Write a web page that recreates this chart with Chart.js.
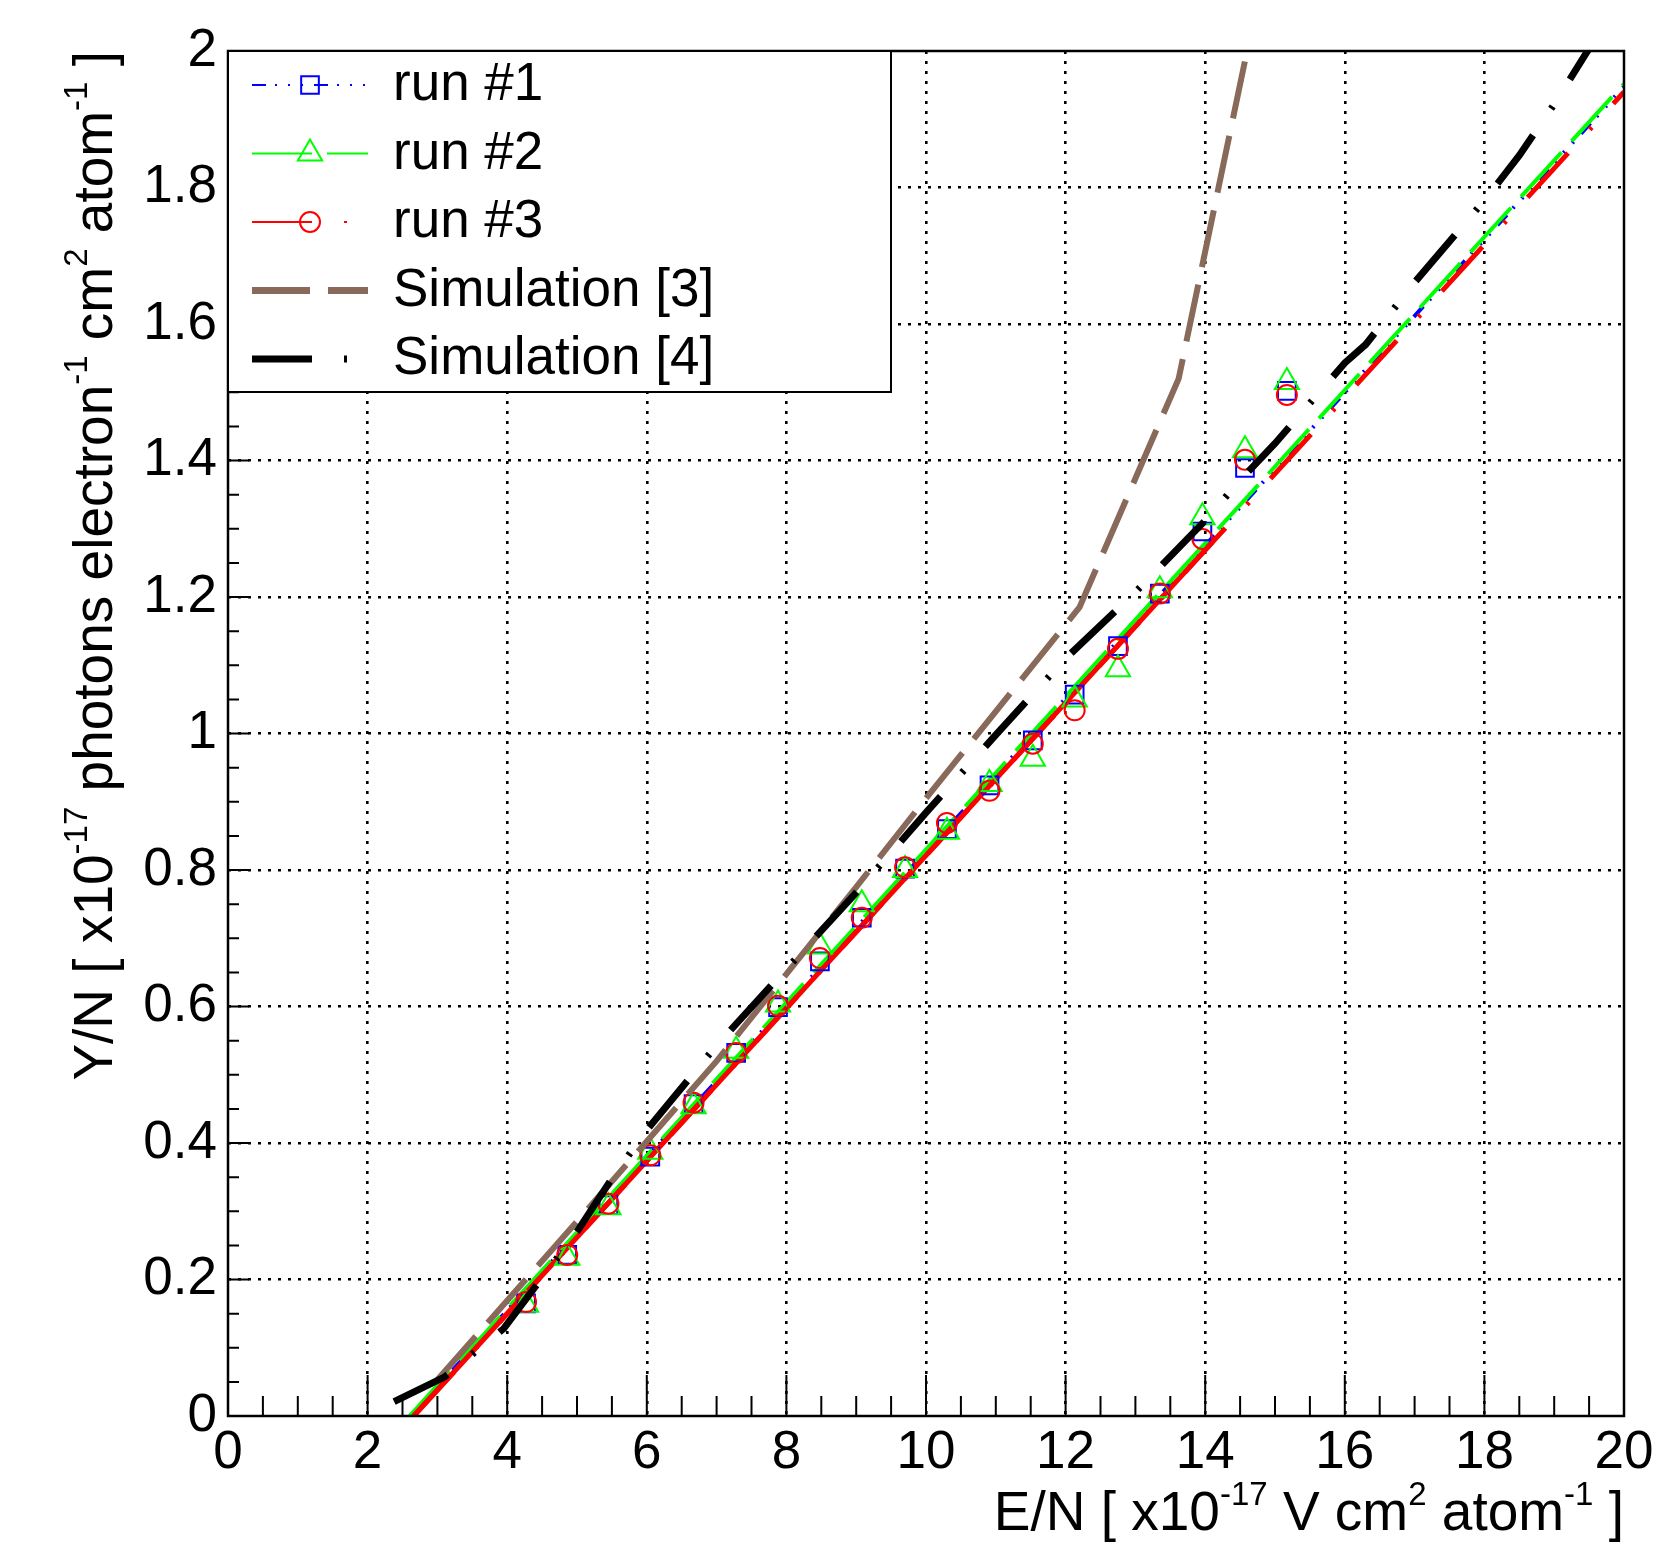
<!DOCTYPE html>
<html>
<head>
<meta charset="utf-8">
<script src="https://cdn.jsdelivr.net/npm/chart.js@4.4.1/dist/chart.umd.min.js"></script>
<style>
html,body{margin:0;padding:0;background:#ffffff;}
#wrap{width:1672px;height:1545px;position:relative;}
canvas{display:block;}
</style>
</head>
<body>
<div id="wrap"><canvas id="c" width="1672" height="1545"></canvas></div>
<script>
// ---------------- data ----------------
const xTickLabels = ['0','2','4','6','8','10','12','14','16','18','20'];
const yTickLabels = ['0','0.2','0.4','0.6','0.8','1','1.2','1.4','1.6','1.8','2'];

// measured points (E/N, Y/N)
const EN = [4.27, 4.86, 5.45, 6.05, 6.67, 7.28, 7.88, 8.48, 9.08, 9.70, 10.30, 10.91, 11.53, 12.13, 12.75, 13.35, 13.96, 14.57, 15.17];
const run1Y = [0.165, 0.236, 0.309, 0.380, 0.457, 0.532, 0.599, 0.666, 0.730, 0.802, 0.860, 0.924, 0.990, 1.057, 1.128, 1.205, 1.296, 1.389, 1.502];
const run2Y = [0.163, 0.232, 0.306, 0.387, 0.454, 0.535, 0.603, 0.688, 0.750, 0.800, 0.856, 0.926, 0.963, 1.050, 1.094, 1.210, 1.317, 1.415, 1.515];
const run3Y = [0.167, 0.236, 0.311, 0.382, 0.459, 0.532, 0.601, 0.671, 0.730, 0.804, 0.869, 0.916, 0.985, 1.034, 1.124, 1.205, 1.285, 1.401, 1.496];

// fitted lines of the runs (end points)
const fit1X = [2.62, 20.0];
const fit1Y = [0.0, 1.948];
const fit2X = [2.60, 20.0];
const fit2Y = [0.0, 1.952];
const fit3X = [2.66, 20.0];
const fit3Y = [0.0, 1.940];
// solid part of the run #3 fit (fit range)
const fit3RangeX = [2.66, 14.1];
const fit3RangeY = [0.0, 1.280];

// Simulation [3]
const sim3X = [3.0, 5.0, 7.0, 9.0, 10.0, 12.2, 13.62, 14.64];
const sim3Y = [0.053, 0.285, 0.52, 0.775, 0.905, 1.185, 1.52, 2.02];

// Simulation [4]
const sim4X = [2.38, 3.1, 3.95, 4.4, 5.0, 5.5, 6.0, 7.0, 8.0, 9.0, 10.0, 11.0, 12.0, 13.0, 14.0, 14.5, 15.0, 16.0, 16.3, 17.0, 18.0, 18.5, 19.0, 19.6];
const sim4Y = [0.021, 0.057, 0.128, 0.189, 0.27, 0.348, 0.419, 0.543, 0.655, 0.767, 0.884, 0.998, 1.110, 1.207, 1.312, 1.371, 1.425, 1.543, 1.570, 1.661, 1.781, 1.847, 1.922, 2.02];

const legendLabels = ['run #1', 'run #2', 'run #3', 'Simulation [3]', 'Simulation [4]'];

// ---------------- styles ----------------
const FONT = '"Liberation Sans", Arial, Helvetica, sans-serif';
const FS = 53;      // tick labels and legend
const FS_T = 55;    // axis titles
const BLUE = '#0000ff', GREEN = '#00ff00', RED = '#ff0000', BROWN = '#88695a', BLACK = '#000000';
const DASH_BLUE = [14, 9, 2, 11, 2, 11, 2, 11];
const DASH_GREEN = [60, 15];
const DASH_RED = [60, 32, 3, 32];
const DASH_BROWN = [58, 18];
const DASH_BLACK = [60, 32, 3, 32];

const xTickValues = xTickLabels.map(Number);
const yTickValues = yTickLabels.map(Number);
const pts = (xs, ys) => xs.map((v, i) => ({x: v, y: ys[i]}));

function lineDs(label, xs, ys, color, width, dash, order) {
  return {label, data: pts(xs, ys), showLine: true, borderColor: color, borderWidth: width,
          borderDash: dash, borderCapStyle: 'butt', borderJoinStyle: 'miter', pointRadius: 0, pointHoverRadius: 0,
          fill: false, tension: 0, clip: 0, order};
}
function markDs(label, xs, ys, color, style, radius, order) {
  return {label, data: pts(xs, ys), showLine: false, pointStyle: style, pointRadius: radius, pointHoverRadius: radius,
          borderColor: color, backgroundColor: 'rgba(0,0,0,0)', pointBorderWidth: 2, borderWidth: 2, order};
}

const datasets = [
  lineDs('Simulation [4]', sim4X, sim4Y, BLACK, 7, DASH_BLACK, 0),
  lineDs('Simulation [3]', sim3X, sim3Y, BROWN, 6, DASH_BROWN, 1),
  markDs('run #3', EN, run3Y, RED, 'circle', 10, 2),
  markDs('run #2', EN, run2Y, GREEN, 'triangle', 14, 3),
  markDs('run #1', EN, run1Y, BLUE, 'rect', 12.5, 4),
  lineDs('fit run #3 range', fit3RangeX, fit3RangeY, RED, 5, [], 5),
  lineDs('fit run #3', fit3X, fit3Y, RED, 5, DASH_RED, 6),
  lineDs('fit run #2', fit2X, fit2Y, GREEN, 4, DASH_GREEN, 7),
  lineDs('fit run #1', fit1X, fit1Y, BLUE, 4, DASH_BLUE, 8)
];

// ---------------- helpers ----------------
function font(sz) { return sz + 'px ' + FONT; }
function richWidth(ctx, parts, size) {
  let w = 0;
  for (const p of parts) { ctx.font = font(p.sup ? size * 0.6 : size); w += ctx.measureText(p.t).width; }
  return w;
}
function drawRich(ctx, parts, size) { // right-aligned, ending at x=0, baseline y=0
  const total = richWidth(ctx, parts, size);
  let x = -total;
  ctx.textAlign = 'left'; ctx.textBaseline = 'alphabetic';
  for (const p of parts) {
    const s = p.sup ? size * 0.6 : size;
    ctx.font = font(s);
    ctx.fillText(p.t, x, p.sup ? -size * 0.46 : 0);
    x += ctx.measureText(p.t).width;
  }
}
const xTitle = [{t:'E/N [ x10'}, {t:'-17', sup:true}, {t:' V cm'}, {t:'2', sup:true}, {t:' atom'}, {t:'-1', sup:true}, {t:' ]'}];
const yTitle = [{t:'Y/N [ x10'}, {t:'-17', sup:true}, {t:' photons electron'}, {t:'-1', sup:true}, {t:' cm'}, {t:'2', sup:true}, {t:' atom'}, {t:'-1', sup:true}, {t:' ]'}];

const legendStyles = [
  {color: BLUE, width: 2, dash: DASH_BLUE, marker: 'rect', r: 12.5},
  {color: GREEN, width: 2, dash: DASH_GREEN, marker: 'triangle', r: 14},
  {color: RED, width: 2, dash: DASH_RED, marker: 'circle', r: 10},
  {color: BROWN, width: 7, dash: DASH_BROWN, marker: null},
  {color: BLACK, width: 7, dash: DASH_BLACK, marker: null}
];

const rootPlugin = {
  id: 'rootDeco',
  afterDatasetsDraw(chart) {
    const {ctx, chartArea: a, scales: {x, y}} = chart;
    ctx.save();
    // inside ticks
    ctx.strokeStyle = '#000'; ctx.lineWidth = 2; ctx.setLineDash([]);
    ctx.beginPath();
    for (let i = 0; i < xTickValues.length; i++) {
      const px = x.getPixelForValue(xTickValues[i]);
      ctx.moveTo(px, a.bottom); ctx.lineTo(px, a.bottom - 41);
      if (i < xTickValues.length - 1) {
        const step = (xTickValues[i + 1] - xTickValues[i]) / 4;
        for (let k = 1; k < 4; k++) {
          const pm = x.getPixelForValue(xTickValues[i] + k * step);
          ctx.moveTo(pm, a.bottom); ctx.lineTo(pm, a.bottom - 20);
        }
      }
    }
    for (let i = 0; i < yTickValues.length; i++) {
      const py = y.getPixelForValue(yTickValues[i]);
      ctx.moveTo(a.left, py); ctx.lineTo(a.left + 21, py);
      if (i < yTickValues.length - 1) {
        const step = (yTickValues[i + 1] - yTickValues[i]) / 4;
        for (let k = 1; k < 4; k++) {
          const pm = y.getPixelForValue(yTickValues[i] + k * step);
          ctx.moveTo(a.left, pm); ctx.lineTo(a.left + 11, pm);
        }
      }
    }
    ctx.stroke();
    // frame
    ctx.lineWidth = 2.5;
    ctx.strokeRect(a.left, a.top, a.right - a.left, a.bottom - a.top);

    // axis titles
    ctx.fillStyle = '#000';
    ctx.save();
    ctx.translate(a.right, 1530);
    drawRich(ctx, xTitle, FS_T);
    ctx.restore();
    ctx.save();
    ctx.translate(112, a.top);
    ctx.rotate(-Math.PI / 2);
    drawRich(ctx, yTitle, FS_T);
    ctx.restore();

    // legend
    const L = {x1: a.left, y1: a.top, x2: 891, y2: 392};
    ctx.fillStyle = '#fff';
    ctx.fillRect(L.x1, L.y1, L.x2 - L.x1, L.y2 - L.y1);
    ctx.strokeStyle = '#000'; ctx.lineWidth = 2;
    ctx.strokeRect(L.x1, L.y1, L.x2 - L.x1, L.y2 - L.y1);
    const rowY0 = 85, rowDy = 68.5;
    for (let i = 0; i < legendLabels.length; i++) {
      const st = legendStyles[i];
      const ry = rowY0 + i * rowDy;
      ctx.save();
      ctx.strokeStyle = st.color; ctx.lineWidth = st.width; ctx.lineCap = 'butt';
      ctx.setLineDash(st.dash);
      ctx.beginPath(); ctx.moveTo(252, ry); ctx.lineTo(368, ry); ctx.stroke();
      ctx.setLineDash([]);
      if (st.marker) {
        ctx.lineWidth = 2;
        ctx.strokeStyle = st.color;
        ctx.fillStyle = 'rgba(0,0,0,0)';
        Chart.helpers.drawPoint(ctx, {pointStyle: st.marker, radius: st.r, borderWidth: 2, rotation: 0}, 310, ry);
      }
      ctx.restore();
      ctx.fillStyle = '#000';
      ctx.font = font(FS);
      ctx.textAlign = 'left'; ctx.textBaseline = 'alphabetic';
      ctx.fillText(legendLabels[i], 393, ry + 15);
    }
    ctx.restore();
  }
};

const gridColor = (vals) => (c) => {
  const v = c.tick ? c.tick.value : null;
  return (v === vals[0] || v === vals[vals.length - 1]) ? 'rgba(0,0,0,0)' : '#000';
};

new Chart(document.getElementById('c').getContext('2d'), {
  type: 'scatter',
  data: {datasets},
  options: {
    responsive: false, animation: false, devicePixelRatio: 1, events: [],
    layout: {padding: {left: 0, right: 48, top: 51, bottom: 0}},
    plugins: {legend: {display: false}, tooltip: {enabled: false}, title: {display: false}},
    scales: {
      x: {
        type: 'linear', position: 'bottom', min: 0, max: 20,
        afterFit: (s) => { s.height = 1545 - 1416; },
        afterBuildTicks: (s) => { s.ticks = xTickValues.map(v => ({value: v})); },
        ticks: {callback: (v, i) => xTickLabels[i], font: {family: FONT, size: FS}, color: '#000',
                padding: 6, maxRotation: 0, minRotation: 0, autoSkip: false},
        grid: {display: true, drawOnChartArea: true, drawTicks: false, color: gridColor(xTickValues), lineWidth: 2.6},
        border: {display: false, dash: [3, 7]}
      },
      y: {
        type: 'linear', position: 'left', min: 0, max: 2,
        afterFit: (s) => { s.width = 228; },
        afterBuildTicks: (s) => { s.ticks = yTickValues.map(v => ({value: v})); },
        ticks: {callback: (v, i) => yTickLabels[i], font: {family: FONT, size: FS}, color: '#000',
                padding: 11, autoSkip: false},
        grid: {display: true, drawOnChartArea: true, drawTicks: false, color: gridColor(yTickValues), lineWidth: 2.6},
        border: {display: false, dash: [3, 7]}
      }
    }
  },
  plugins: [rootPlugin]
});
</script>
</body>
</html>
